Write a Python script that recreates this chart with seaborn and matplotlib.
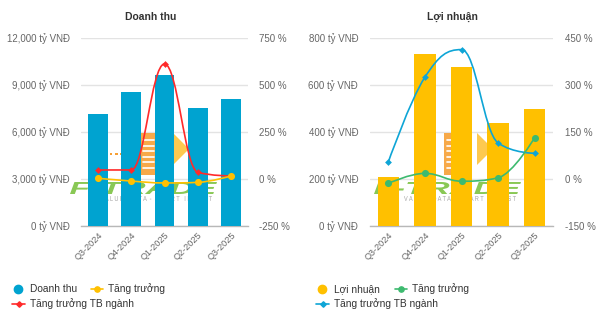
import matplotlib
matplotlib.use("Agg")
import matplotlib.pyplot as plt
import numpy as np
import pandas as pd
import seaborn as sns
from matplotlib.path import Path
from matplotlib.patches import PathPatch, Rectangle, Polygon
from matplotlib.lines import Line2D
from matplotlib.textpath import TextPath
from matplotlib.font_manager import FontProperties
from matplotlib.transforms import Affine2D

# ---- data ----
quarters = ["Q3-2024", "Q4-2024", "Q1-2025", "Q2-2025", "Q3-2025"]
revenue = [7150, 8570, 9640, 7550, 8100]            # tỷ VNĐ
revenue_growth = [4, -11, -21, -18, 16]             # %
revenue_industry = [48, 48, 612, 36, 16]            # %
profit = [210, 732, 677, 440, 497]                  # tỷ VNĐ
profit_growth = [-14, 18, -7, 4, 132]               # %
profit_industry = [54, 325, 413, 115, 82]           # %

rev_ticks = [0, 3000, 6000, 9000, 12000]
rev_pct_ticks = [-250, 0, 250, 500, 750]
pro_ticks = [0, 200, 400, 600, 800]
pro_pct_ticks = [-150, 0, 150, 300, 450]

BLUE = "#00a3d0"
GOLD = "#ffc000"
RED = "#ff2a2a"
GREEN = "#3dba6f"
CYAN = "#0ea5d6"
TXT = "#666666"

W, H = 605, 323
sns.set_theme(style="white")
plt.rcParams["font.family"] = ["Liberation Sans", "DejaVu Sans"]

fig = plt.figure(figsize=(W / 100, H / 100), dpi=100)
fig.patch.set_facecolor("white")


def fx(px):
    return px / W


def fy(py):
    return 1 - py / H


def spline_path(xs, ys, smoothing=1.5):
    """Cubic Bezier path through the points with smoothed, non-overshooting handles."""
    n = len(xs)
    denom = smoothing + 1
    lc = [(xs[i], ys[i]) for i in range(n)]
    rc = list(lc)
    for i in range(1, n - 1):
        x, y = xs[i], ys[i]
        lx, ly = xs[i - 1], ys[i - 1]
        nx, ny = xs[i + 1], ys[i + 1]
        lcx = (smoothing * x + lx) / denom
        lcy = (smoothing * y + ly) / denom
        rcx = (smoothing * x + nx) / denom
        rcy = (smoothing * y + ny) / denom
        if rcx != lcx:
            corr = ((rcy - lcy) * (rcx - x)) / (rcx - lcx) + y - rcy
            lcy += corr
            rcy += corr
        if lcy > ly and lcy > y:
            lcy = max(ly, y); rcy = 2 * y - lcy
        elif lcy < ly and lcy < y:
            lcy = min(ly, y); rcy = 2 * y - lcy
        if rcy > ny and rcy > y:
            rcy = max(ny, y); lcy = 2 * y - rcy
        elif rcy < ny and rcy < y:
            rcy = min(ny, y); lcy = 2 * y - rcy
        lc[i] = (lcx, lcy)
        rc[i] = (rcx, rcy)
    verts = [(xs[0], ys[0])]
    codes = [Path.MOVETO]
    for i in range(1, n):
        verts += [rc[i - 1], lc[i], (xs[i], ys[i])]
        codes += [Path.CURVE4] * 3
    return Path(verts, codes)


def scaled_text(ax, text, box, color, alpha, weight="bold", style="italic"):
    """Text outline stretched to fill a pixel box (x0, y0, x1, y1)."""
    fp = FontProperties(family="Liberation Sans", weight=weight, style=style)
    tp = TextPath((0, 0), text, size=10, prop=fp)
    ext = tp.get_extents()
    x0, y0, x1, y1 = box
    sx = (fx(x1) - fx(x0)) / ext.width
    sy = (fy(y0) - fy(y1)) / ext.height
    tr = Affine2D().translate(-ext.x0, -ext.y0).scale(sx, sy).translate(fx(x0), fy(y1))
    patch = PathPatch(tr.transform_path(tp), facecolor=color, edgecolor="none",
                      alpha=alpha, transform=fig.transFigure, zorder=1, clip_on=False)
    ax.add_artist(patch)


def logo(ax, p):
    """F-TRADE watermark behind the bars, p = panel pixel offset."""
    # orange block with white stripes
    ax.add_artist(Rectangle((fx(p + 140), fy(175)), fx(17), 42 / H, facecolor="#f7a035",
                            edgecolor="none", alpha=0.9, transform=fig.transFigure,
                            zorder=1, clip_on=False))
    for k in range(6):
        yy = 140 + k * 5.5
        ax.add_artist(Line2D([fx(p + 143), fx(p + 154)], [fy(yy), fy(yy)], color="white",
                             lw=1.2, transform=fig.transFigure, zorder=1.1))
    # yellow arrow
    ax.add_artist(Polygon([(fx(p + 173), fy(133)), (fx(p + 189), fy(149)), (fx(p + 173), fy(165))],
                          closed=True, facecolor="#fdc43c", edgecolor="none", alpha=0.9,
                          transform=fig.transFigure, zorder=1, clip_on=False))
    # small orange dots
    for dx in (110, 115, 120):
        ax.add_artist(Rectangle((fx(p + dx), fy(155)), fx(2.5), 2.5 / H, facecolor="#f7a035",
                                edgecolor="none", transform=fig.transFigure, zorder=1,
                                clip_on=False))
    scaled_text(ax, "F-TRADE", (p + 70, 182, p + 217, 194), "#7cc242", 0.9)
    scaled_text(ax, "V A L U E   D A T A  -  S M A R T   I N V E S T", (p + 100, 196, p + 212, 201),
                "#9a9a9a", 0.9, weight="normal", style="normal")


def panel(rect, p, title, title_x, bars, growth, industry, bar_color, growth_color, ind_color,
          ticks, pct_ticks, bar_width, legend_names):
    ax = fig.add_axes(rect)
    df = pd.DataFrame({"quarter": quarters, "value": bars})
    sns.barplot(data=df, x="quarter", y="value", color=bar_color, saturation=1, width=bar_width,
                linewidth=0, ax=ax, zorder=3)
    ax.set_xlim(-0.5, len(quarters) - 0.5)
    ax.set_ylim(ticks[0], ticks[-1])
    ax.set_yticks(ticks)
    ax.set_yticklabels([f"{v:,} tỷ VNĐ" for v in ticks])
    ax.set_xlabel("")
    ax.set_ylabel("")
    ax.set_axisbelow(True)
    ax.grid(axis="y", color="#e3e3e3", lw=1.0)
    ax.grid(axis="x", visible=False)
    for s in ("left", "right", "top"):
        ax.spines[s].set_visible(False)
    ax.spines["bottom"].set_color("#b8b8b8")
    ax.spines["bottom"].set_linewidth(1.0)
    ax.tick_params(axis="y", length=0, pad=8.5, labelsize=7, labelcolor=TXT)
    ax.tick_params(axis="x", length=0, pad=3, labelsize=6.6, labelcolor=TXT)
    for lab in ax.get_xticklabels():
        lab.set_rotation(45)
        lab.set_ha("right")
        lab.set_va("top")
        lab.set_rotation_mode("anchor")
    ax.set_facecolor("none")
    logo(ax, p)

    ax2 = ax.twinx()
    ax2.set_ylim(pct_ticks[0], pct_ticks[-1])
    ax2.set_yticks(pct_ticks)
    ax2.set_yticklabels([f"{v} %" for v in pct_ticks])
    ax2.tick_params(axis="y", length=0, pad=8.5, labelsize=7, labelcolor=TXT)
    ax2.grid(False)
    for s in ax2.spines.values():
        s.set_visible(False)

    xs = list(range(len(quarters)))
    ax2.add_patch(PathPatch(spline_path(xs, industry), fill=False, edgecolor=ind_color,
                            lw=1.2, zorder=4))
    ax2.add_patch(PathPatch(spline_path(xs, growth), fill=False, edgecolor=growth_color,
                            lw=1.2, zorder=4))
    sns.scatterplot(x=xs, y=industry, ax=ax2, color=ind_color, marker="D", s=12,
                    linewidth=0, zorder=5)
    sns.scatterplot(x=xs, y=growth, ax=ax2, color=growth_color, marker="o", s=26,
                    linewidth=0, zorder=5)
    ax2.set_xlim(-0.5, len(quarters) - 0.5)

    fig.text(fx(title_x), fy(17), title, ha="center", va="center", fontsize=7.5,
             fontweight="bold", color="#333333")

    # legend
    lt = dict(fontsize=7.3, color="#333333", va="center", ha="left")
    r1, r2 = fy(289), fy(304)
    fig.add_artist(Line2D([fx(p + 18)], [r1], marker="o", markersize=6, color=bar_color,
                          lw=0, transform=fig.transFigure))
    fig.text(fx(p + 30), r1, legend_names[0], **lt)
    fig.add_artist(Line2D([fx(p + 91), fx(p + 103)], [r1, r1], color=growth_color, lw=1.2,
                          transform=fig.transFigure))
    fig.add_artist(Line2D([fx(p + 97)], [r1], marker="o", markersize=3.8, color=growth_color,
                          lw=0, transform=fig.transFigure))
    fig.text(fx(p + 108), r1, legend_names[1], **lt)
    fig.add_artist(Line2D([fx(p + 12), fx(p + 25)], [r2, r2], color=ind_color, lw=1.2,
                          transform=fig.transFigure))
    fig.add_artist(Line2D([fx(p + 18.5)], [r2], marker="D", markersize=2.8, color=ind_color,
                          lw=0, transform=fig.transFigure))
    fig.text(fx(p + 30), r2, legend_names[2], **lt)
    return ax, ax2


panel([fx(81.4), fy(226), fx(166.2), 188 / H], 0, "Doanh thu", 150.5,
      revenue, revenue_growth, revenue_industry, BLUE, GOLD, RED,
      rev_ticks, rev_pct_ticks, 0.6,
      ["Doanh thu", "Tăng trưởng", "Tăng trưởng TB ngành"])

panel([fx(370), fy(226), fx(183), 188 / H], 304, "Lợi nhuận", 452.7,
      profit, profit_growth, profit_industry, GOLD, GREEN, CYAN,
      pro_ticks, pro_pct_ticks, 0.58,
      ["Lợi nhuận", "Tăng trưởng", "Tăng trưởng TB ngành"])

fig.savefig("out.png", dpi=100, facecolor="white")
